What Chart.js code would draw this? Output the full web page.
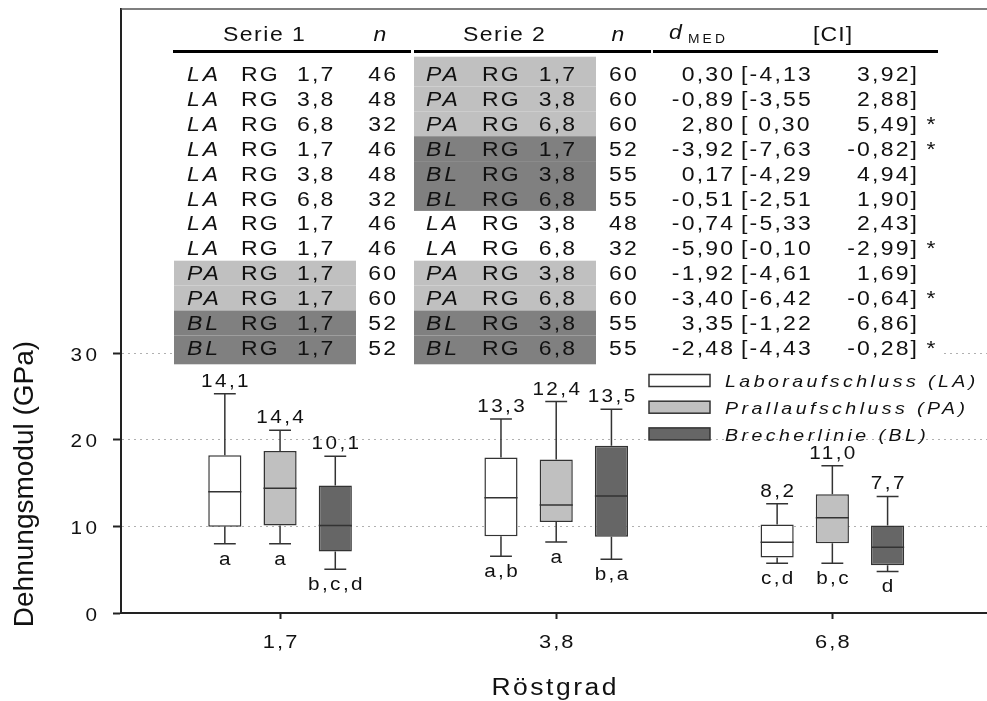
<!DOCTYPE html>
<html>
<head>
<meta charset="utf-8">
<script src="https://cdn.jsdelivr.net/npm/chart.js@4"></script>
<style>
  html, body { margin: 0; padding: 0; background: #fff; }
  #wrap { width: 987px; height: 701px; }
</style>
</head>
<body>
<div id="wrap"><canvas id="chart" width="987" height="701"></canvas></div>
<script>
// Roast levels (x categories) and their positions on the linear x scale
const roastLevels = ['1,7', '3,8', '6,8'];
const roastPos = [1, 2, 3];
const yTicks = [0, 10, 20, 30];

const groupNames = ['Laboraufschluss (LA)', 'Prallaufschluss (PA)', 'Brecherlinie (BL)'];
const groupColors = ['#ffffff', '#c0c0c0', '#666666'];

// Box plot values per group (min whisker, Q1, median, Q3, max whisker)
const laMin = [8.0, 6.55, 5.75];
const laQ1 = [9.95, 8.85, 6.4];
const laMed = [14.0, 13.3, 8.15];
const laQ3 = [18.2, 17.95, 10.2];
const laMax = [25.3, 22.4, 12.6];

const paMin = [8.0, 8.2, 5.75];
const paQ1 = [10.1, 10.5, 8.05];
const paMed = [14.4, 12.45, 11.0];
const paQ3 = [18.7, 17.7, 13.7];
const paMax = [21.1, 24.4, 17.0];

const blMin = [5.05, 6.2, 4.8];
const blQ1 = [7.1, 8.8, 5.5];
const blMed = [10.1, 13.5, 7.6];
const blQ3 = [14.7, 19.3, 10.1];
const blMax = [18.1, 23.5, 13.45];

// Labels above (median) and below (significance letters) each box
const laMedLabels = ['14,1', '13,3', '8,2'];
const paMedLabels = ['14,4', '12,4', '11,0'];
const blMedLabels = ['10,1', '13,5', '7,7'];
const laLetters = ['a', 'a,b', 'c,d'];
const paLetters = ['a', 'a', 'b,c'];
const blLetters = ['b,c,d', 'b,a', 'd'];

// Comparison table
const s1Code = ['LA', 'LA', 'LA', 'LA', 'LA', 'LA', 'LA', 'LA', 'PA', 'PA', 'BL', 'BL'];
const s1Rg = ['1,7', '3,8', '6,8', '1,7', '3,8', '6,8', '1,7', '1,7', '1,7', '1,7', '1,7', '1,7'];
const s1N = ['46', '48', '32', '46', '48', '32', '46', '46', '60', '60', '52', '52'];
const s2Code = ['PA', 'PA', 'PA', 'BL', 'BL', 'BL', 'LA', 'LA', 'PA', 'PA', 'BL', 'BL'];
const s2Rg = ['1,7', '3,8', '6,8', '1,7', '3,8', '6,8', '3,8', '6,8', '3,8', '6,8', '3,8', '6,8'];
const s2N = ['60', '60', '60', '52', '55', '55', '48', '32', '60', '60', '55', '55'];
const dMed = ['0,30', '-0,89', '2,80', '-3,92', '0,17', '-0,51', '-0,74', '-5,90', '-1,92', '-3,40', '3,35', '-2,48'];
const ciLow = ['-4,13', '-3,55', ' 0,30', '-7,63', '-4,29', '-2,51', '-5,33', '-0,10', '-4,61', '-6,42', '-1,22', '-4,43'];
const ciHigh = ['3,92', '2,88', '5,49', '-0,82', '4,94', '1,90', '2,43', '-2,99', '1,69', '-0,64', '6,86', '-0,28'];
const significant = [false, false, true, true, false, false, false, true, false, true, false, true];

const shade = { PA: '#c0c0c0', BL: '#808080' };
const FONT = '"Liberation Sans", Arial, sans-serif';
const INK = '#111';
const STRETCH = 1.15;

function drawText(ctx, text, x, y, o = {}) {
    const size = o.size || 20;
    const sx = o.sx == null ? STRETCH : o.sx;
    const sp = o.spacing || 0;
    ctx.save();
    ctx.font = (o.italic ? 'italic ' : '') + size + 'px ' + FONT;
    ctx.letterSpacing = '0px';
    const n = [...text].length;
    const w = (ctx.measureText(text).width + sp * (n - 1)) * sx;
    let left = x;
    if (o.align === 'right') left = x - w;
    else if (o.align === 'center') left = x - w / 2;
    ctx.translate(left, y);
    ctx.scale(sx, 1);
    ctx.letterSpacing = sp + 'px';
    ctx.fillStyle = o.color || INK;
    ctx.textAlign = 'left';
    ctx.textBaseline = 'alphabetic';
    ctx.fillText(text, 0, 0);
    ctx.restore();
}

function makeDataset(i, q1, q3, min, med, max, medLabels, letters) {
    return {
        label: groupNames[i],
        data: roastPos.map((x, k) => ({ x: x, y: [q1[k], q3[k]] })),
        backgroundColor: groupColors[i],
        borderColor: '#333',
        borderWidth: 1.5,
        borderSkipped: false,
        whisker: { min, med, max, medLabels, letters }
    };
}

const datasets = [
    makeDataset(0, laQ1, laQ3, laMin, laMed, laMax, laMedLabels, laLetters),
    makeDataset(1, paQ1, paQ3, paMin, paMed, paMax, paMedLabels, paLetters),
    makeDataset(2, blQ1, blQ3, blMin, blMed, blMax, blMedLabels, blLetters)
];

// whiskers, medians and the labels around each box
const boxPlugin = {
    id: 'boxWhiskers',
    afterDatasetsDraw(chart) {
        const ctx = chart.ctx;
        const y = chart.scales.y;
        chart.data.datasets.forEach((ds, di) => {
            const meta = chart.getDatasetMeta(di);
            const w = ds.whisker;
            meta.data.forEach((el, k) => {
                const half = el.width / 2;
                const cap = el.width * 0.33;
                const pMin = y.getPixelForValue(w.min[k]);
                const pMax = y.getPixelForValue(w.max[k]);
                const pQ1 = y.getPixelForValue(ds.data[k].y[0]);
                const pQ3 = y.getPixelForValue(ds.data[k].y[1]);
                const pMed = y.getPixelForValue(w.med[k]);
                ctx.save();
                ctx.strokeStyle = '#333';
                ctx.lineWidth = 1.5;
                ctx.beginPath();
                ctx.moveTo(el.x, pQ3); ctx.lineTo(el.x, pMax);
                ctx.moveTo(el.x - cap, pMax); ctx.lineTo(el.x + cap, pMax);
                ctx.moveTo(el.x, pQ1); ctx.lineTo(el.x, pMin);
                ctx.moveTo(el.x - cap, pMin); ctx.lineTo(el.x + cap, pMin);
                ctx.moveTo(el.x - half, pMed); ctx.lineTo(el.x + half, pMed);
                ctx.stroke();
                ctx.restore();
                drawText(ctx, w.medLabels[k], el.x, pMax - 7, { size: 18, spacing: 2.1, align: 'center' });
                drawText(ctx, w.letters[k], el.x, pMin + 21, { size: 18, spacing: 2.1, align: 'center' });
            });
        });
    }
};

const rowBase = i => 81 + 24.9 * i;

const tablePlugin = {
    id: 'tableAndText',
    afterDraw(chart) {
        const ctx = chart.ctx;
        const area = chart.chartArea;
        const xs = chart.scales.x;
        const ys = chart.scales.y;

        // top frame line
        ctx.save();
        ctx.strokeStyle = '#555';
        ctx.lineWidth = 1.5;
        ctx.beginPath();
        ctx.moveTo(area.left, area.top);
        ctx.lineTo(area.right, area.top);
        ctx.stroke();
        ctx.restore();

        // tick labels
        yTicks.forEach(v => {
            drawText(ctx, String(v), 97, ys.getPixelForValue(v) + 7.5, { size: 18, spacing: 3, align: 'right' });
        });
        roastPos.forEach((v, i) => {
            drawText(ctx, roastLevels[i], xs.getPixelForValue(v), 648, { size: 19, spacing: 1.8, align: 'center' });
        });

        // axis titles
        drawText(ctx, 'Röstgrad', 554, 695, { size: 23, spacing: 2.2, align: 'center' });
        ctx.save();
        ctx.translate(33, 484);
        ctx.rotate(-Math.PI / 2);
        ctx.font = '28px ' + FONT;
        ctx.fillStyle = INK;
        ctx.textAlign = 'center';
        ctx.textBaseline = 'alphabetic';
        ctx.letterSpacing = '0px';
        ctx.fillText('Dehnungsmodul (GPa)', 0, 0);
        ctx.restore();

        // table background and shading
        ctx.save();
        ctx.fillStyle = '#fff';
        ctx.fillRect(174, 55, 769, 311);
        for (let i = 0; i < s1Code.length; i++) {
            let top = rowBase(i) - 19.5;
            let bottom = top + 24.9;
            if (i === 0) top -= 4.8;
            if (i === s1Code.length - 1) bottom += 4;
            if (shade[s1Code[i]]) {
                ctx.fillStyle = shade[s1Code[i]];
                ctx.fillRect(174, top, 182, bottom - top);
            }
            if (shade[s2Code[i]]) {
                ctx.fillStyle = shade[s2Code[i]];
                ctx.fillRect(414, top, 182, bottom - top);
            }
        }
        // header rules
        ctx.fillStyle = '#000';
        ctx.fillRect(173, 50, 238, 3);
        ctx.fillRect(414, 50, 237, 3);
        ctx.fillRect(653, 50, 285, 3);
        ctx.restore();

        // header text
        const hb = 40.5;
        drawText(ctx, 'Serie 1', 223, hb, { spacing: 1.3 });
        drawText(ctx, 'n', 380, hb, { italic: true, align: 'center' });
        drawText(ctx, 'Serie 2', 463, hb, { spacing: 1.3 });
        drawText(ctx, 'n', 618, hb, { italic: true, align: 'center' });
        drawText(ctx, 'd', 669, 38.5, { italic: true });
        drawText(ctx, 'MED', 688, 43.3, { size: 12, spacing: 2.7 });
        drawText(ctx, '[CI]', 813, hb, { spacing: 1 });

        // rows
        const ro = { spacing: 1.9 };
        const rr = { spacing: 1.9, align: 'right' };
        for (let i = 0; i < s1Code.length; i++) {
            const b = rowBase(i);
            drawText(ctx, s1Code[i], 187, b, { italic: true, spacing: 2.5 });
            drawText(ctx, 'RG', 241, b, ro);
            drawText(ctx, s1Rg[i], 297, b, ro);
            drawText(ctx, s1N[i], 396, b, rr);
            drawText(ctx, s2Code[i], 426, b, { italic: true, spacing: 2.5 });
            drawText(ctx, 'RG', 482, b, ro);
            drawText(ctx, s2Rg[i], 575, b, rr);
            drawText(ctx, s2N[i], 609, b, ro);
            drawText(ctx, dMed[i], 733, b, rr);
            drawText(ctx, '[' + ciLow[i], 741, b, ro);
            drawText(ctx, ciHigh[i] + ']', 917, b, rr);
            if (significant[i]) drawText(ctx, '*', 931, b, { align: 'center' });
        }

        // legend
        chart.data.datasets.forEach((ds, i) => {
            const top = 374.5 + 26.7 * i;
            ctx.save();
            ctx.fillStyle = ds.backgroundColor;
            ctx.strokeStyle = '#333';
            ctx.lineWidth = 1.5;
            ctx.fillRect(649, top, 61, 12);
            ctx.strokeRect(649, top, 61, 12);
            ctx.restore();
            drawText(ctx, ds.label, 725, top + 12.6, { size: 17, italic: true, spacing: 3 });
        });
    }
};

new Chart(document.getElementById('chart'), {
    type: 'bar',
    data: { datasets: datasets },
    options: {
        responsive: false,
        animation: false,
        devicePixelRatio: 1,
        layout: { padding: { top: 9, right: 0, bottom: 0, left: 0 } },
        plugins: {
            legend: { display: false },
            tooltip: { enabled: false }
        },
        datasets: {
            bar: { categoryPercentage: 0.6, barPercentage: 0.6 }
        },
        scales: {
            x: {
                type: 'linear',
                min: 0.424,
                max: 3.56,
                offset: false,
                afterBuildTicks: s => { s.ticks = roastPos.map(v => ({ value: v })); },
                afterFit: s => { s.height = 88; s.paddingLeft = 0; s.paddingRight = 0; },
                grid: {
                    display: true,
                    offset: false,
                    drawOnChartArea: false,
                    drawTicks: true,
                    tickLength: 6,
                    tickColor: '#222',
                    tickWidth: 2
                },
                border: { color: '#222', width: 2 },
                ticks: { display: false }
            },
            y: {
                min: 0,
                max: 69.7,
                afterBuildTicks: s => { s.ticks = yTicks.map(v => ({ value: v })); },
                afterFit: s => { s.width = 121; s.paddingTop = 0; s.paddingBottom = 0; },
                grid: {
                    color: '#b0b0b0',
                    lineWidth: 1,
                    tickLength: 8,
                    tickColor: '#222',
                    tickWidth: 2
                },
                border: { color: '#222', width: 2, dash: [2, 4] },
                ticks: { display: false }
            }
        }
    },
    plugins: [boxPlugin, tablePlugin]
});
</script>
</body>
</html>
